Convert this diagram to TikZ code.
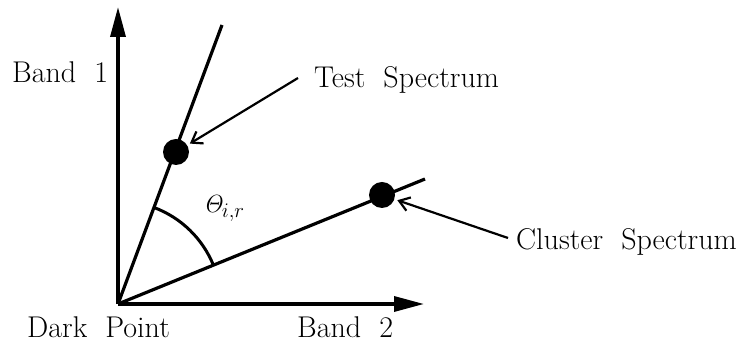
\documentclass[tikz,border=0pt]{standalone}
\usetikzlibrary{arrows.meta}
\begin{document}
\begin{tikzpicture}[x=1pt,y=1pt,
  axis/.style={line width=3.4pt, -{Triangle[length=30pt,width=15pt]}},
  ray/.style={line width=3.2pt},
  dot/.style={circle, fill=black, inner sep=0pt, minimum size=26pt},
  pointer/.style={line width=2.2pt, -{Straight Barb[length=10pt,width=14pt,line width=2.2pt]}, shorten >=3pt},
  lbl/.style={anchor=base west, inner sep=0pt, font={\fontsize{30}{35}\selectfont\spaceskip=0.6em\relax}}
]
\useasboundingbox (0,0) rectangle (747,347);
\coordinate (O) at (118,43);
\coordinate (ytip) at (118,340);
\coordinate (xtip) at (424,43);
\coordinate (tend) at (222,322);
\coordinate (cend) at (425,168);
\draw[axis] (O) -- (ytip);
\draw[axis] (O) -- (xtip);
\draw[ray] (O) -- (tend);
\draw[ray] (O) -- (cend);
\draw[line width=3pt] ([shift={(22.2:103)}]O) arc[start angle=22.2, end angle=69.6, radius=103];
\node[dot] (tdot) at (176,195) {};
\node[dot] (cdot) at (382,152) {};
\node (theta) at (224,138) {\fontsize{28}{32}\selectfont$\mathit{\Theta}_{i,r}$};
\node[lbl] (band1) at (12,264) {Band 1};
\node[lbl] (dark) at (27,9) {Dark Point};
\node[lbl] (band2) at (297,9) {Band 2};
\node[lbl] (test) at (314,259) {Test Spectrum};
\node[lbl] (cluster) at (516,97) {Cluster Spectrum};
\coordinate (tstart) at (298,269);
\coordinate (cstart) at (508,109);
\draw[pointer] (tstart) -- (tdot);
\draw[pointer] (cstart) -- (cdot);
\end{tikzpicture}
\end{document}
